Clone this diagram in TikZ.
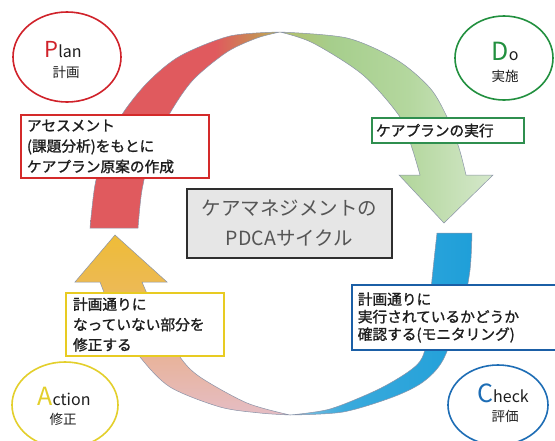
\documentclass[tikz,border=0pt]{standalone}
\usepackage{fontspec}
\setmainfont{Noto Sans CJK JP}
\newfontfamily\lblfont{Noto Sans CJK JP}[FakeBold=1.3]
\usetikzlibrary{shapes.geometric}
\definecolor{bred}{HTML}{E05A5E}
\definecolor{bbrown}{HTML}{C98A55}
\definecolor{bolive}{HTML}{B8B45C}
\definecolor{golive}{HTML}{B5BF6A}
\definecolor{gmid}{HTML}{A6CE8C}
\definecolor{gmid2}{HTML}{B4D79E}
\definecolor{gpale}{HTML}{D5E8CB}
\definecolor{bdark}{HTML}{1F9FD9}
\definecolor{bmid}{HTML}{3AAADC}
\definecolor{blight}{HTML}{8CC4E2}
\definecolor{yA}{HTML}{EEBC38}
\definecolor{yB}{HTML}{ECB95E}
\definecolor{yC}{HTML}{E8B49E}
\definecolor{yD}{HTML}{E5BDC4}
\definecolor{bandline}{HTML}{8A93A8}
\definecolor{boxred}{HTML}{D42A2A}
\definecolor{boxgreen}{HTML}{2F8F4F}
\definecolor{boxyellow}{HTML}{E8CB22}
\definecolor{boxblue}{HTML}{1B5FA6}
\definecolor{cred}{HTML}{D0222A}
\definecolor{cgreen}{HTML}{22903F}
\definecolor{cyellow}{HTML}{E3CF2B}
\definecolor{cblue}{HTML}{1D6DB5}
\definecolor{txt}{HTML}{1E1E1E}
\definecolor{cgray}{HTML}{E6E6E6}
\definecolor{cdark}{HTML}{2E2E2E}
\definecolor{ctext}{HTML}{555555}
\pgfdeclarehorizontalshading{redband}{100bp}{color(0bp)=(bred); color(58bp)=(bred); color(68bp)=(bbrown); color(75bp)=(bolive); color(100bp)=(bolive)}
\pgfdeclarehorizontalshading{greenband}{100bp}{color(0bp)=(golive); color(25bp)=(golive); color(37bp)=(gmid); color(55bp)=(gmid2); color(75bp)=(gpale); color(100bp)=(gpale)}
\pgfdeclarehorizontalshading{blueband}{100bp}{color(0bp)=(blight); color(25bp)=(blight); color(40bp)=(bmid); color(75bp)=(bdark); color(100bp)=(bdark)}
\pgfdeclareverticalshading{yellowband}{100bp}{color(0bp)=(yD); color(25bp)=(yD); color(40bp)=(yC); color(55bp)=(yB); color(75bp)=(yA); color(100bp)=(yA)}
\tikzset{
  band/.style={draw=bandline, line width=0.5pt},
  lbl/.style={rectangle, draw=#1, line width=1.6pt, fill=white, align=left,
    inner ysep=0pt, text=txt},
  circ/.style={ellipse, draw=#1, line width=1.6pt, fill=white, inner sep=0pt},
  ctitle/.style={anchor=base, text=txt, inner sep=0pt, font=\fontsize{16}{16}\selectfont},
  csub/.style={text=txt, inner sep=0pt, font=\fontsize{13.5}{13.5}\selectfont},
}
\begin{document}
\begin{tikzpicture}[x=1pt,y=-1pt]
\useasboundingbox (0,0) rectangle (555,440);
\clip (0,0) rectangle (555,440);
\fill[white] (0,0) rectangle (555,440);

% red band (Plan -> Do)
\shadedraw[shading=redband, band]
  plot[smooth] coordinates {(90,228) (95,185) (105,148) (123,113) (148,82) (180,56) (230,36) (280,32)}
  -- plot[smooth] coordinates {(280,32) (257,38) (227,52) (193,80) (170,113) (152,150) (142,190) (138,228)}
  -- cycle;

% green band with arrowhead (Do -> Check)
\shadedraw[shading=greenband, band]
  plot[smooth] coordinates {(280,32) (347,38) (397,60) (430,88) (447,117) (459,148) (466,175)}
  -- (493,175) -- (444,223) -- (399,175) -- (420,175)
  -- plot[smooth] coordinates {(420,175) (412,148) (400,117) (363,75) (313,43) (280,32)}
  -- cycle;

% blue band (Check -> Action)
\shadedraw[shading=blueband, band]
  (437,233) -- (472,233)
  -- plot[smooth] coordinates {(472,233) (470,270) (462,310) (443,360) (423,382) (393,397) (343,412) (290,415)}
  -- plot[smooth] coordinates {(290,415) (330,409) (377,390) (408,372) (422,358) (429,330) (431,290) (437,233)}
  -- cycle;

% yellow band with arrowhead (Action -> Plan)
\shadedraw[shading=yellowband, band]
  (115,235) -- (167,282) -- (142,282)
  -- plot[smooth] coordinates {(142,282) (159,320) (180,357) (200,377) (247,403) (290,415)}
  -- plot[smooth] coordinates {(290,415) (260,413) (220,407) (170,387) (140,357) (116,320) (100,282)}
  -- (75,282) -- cycle;

% label boxes
\node[lbl=boxred, minimum width=188pt, minimum height=63pt, text width=176pt,
  inner xsep=6pt, font=\lblfont\fontsize{14.7}{20.5}\selectfont] (planbox) at (115,146.5)
  {アセスメント\\(課題分析)をもとに\\ケアプラン原案の作成};
\node[lbl=boxgreen, minimum width=152pt, minimum height=25pt, text width=144pt,
  inner xsep=4pt, font=\lblfont\fontsize{14.7}{17}\selectfont] (dobox) at (448,130.5)
  {ケアプランの実行};
\node[lbl=boxyellow, minimum width=158pt, minimum height=63pt, text width=144pt,
  inner xsep=7pt, font=\lblfont\fontsize{14.7}{20.3}\selectfont] (actbox) at (145,324.5)
  {計画通りに\\なっていない部分を\\修正する};
\node[lbl=boxblue, minimum width=230pt, minimum height=65pt, text width=218pt,
  inner xsep=6pt, anchor=west, font=\lblfont\fontsize{14.7}{17.5}\selectfont] (chkbox) at (351,317.5)
  {計画通りに\\実行されているかどうか\\確認する(モニタリング)};

% centre title
\node[draw=cdark, line width=1.5pt, fill=cgray, minimum width=205pt, minimum height=69pt,
  align=center, text=ctext, font=\fontsize{19.5}{30}\selectfont] (title) at (289.5,223.5)
  {ケアマネジメントの\\PDCAサイクル};

% phase ellipses
\node[circ=cred, minimum width=108pt, minimum height=90pt] (plan) at (67,57) {};
\node[ctitle] (plant) at (63,57) {{\color{cred}\fontsize{22}{22}\selectfont P}lan};
\node[csub] (plans) at (66,72) {計画};

\node[circ=cgreen, minimum width=98pt, minimum height=84pt] (do) at (504,58) {};
\node[ctitle] (dot) at (505,60) {{\color{cgreen}\fontsize{25}{25}\selectfont D}o};
\node[csub] (dos) at (505,76) {実施};

\node[circ=cyellow, minimum width=106pt, minimum height=86pt] (act) at (65,405) {};
\node[ctitle] (actt) at (64,405) {{\color{cyellow}\fontsize{25}{25}\selectfont A}ction};
\node[csub] (acts) at (63,419) {修正};

\node[circ=cblue, minimum width=100pt, minimum height=80pt] (chk) at (498,405) {};
\node[ctitle] (chkt) at (503,402) {{\color{cblue}\fontsize{25}{25}\selectfont C}heck};
\node[csub] (chks) at (505,416) {評価};
\end{tikzpicture}
\end{document}
